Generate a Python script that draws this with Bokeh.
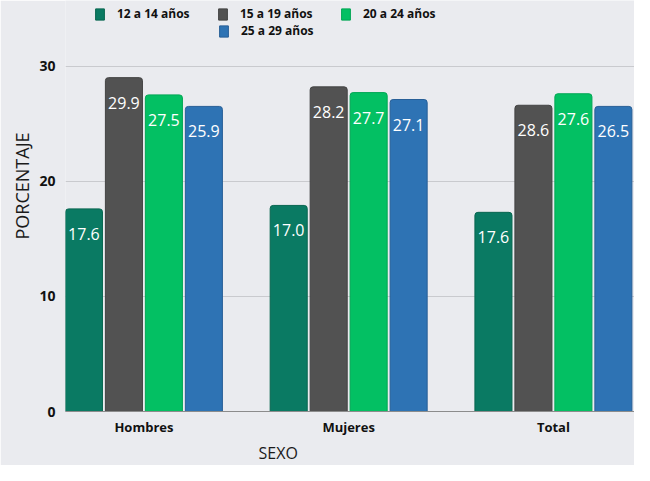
from bokeh.plotting import figure
from bokeh.models import ColumnDataSource, Range1d, FixedTicker, Legend, LegendItem, Title
from bokeh.transform import dodge
from bokeh.core.properties import value
from bokeh.embed import file_html
from bokeh.resources import INLINE

# ---- data ----
categories = ["Hombres", "Mujeres", "Total"]
age_groups = ["12 a 14 años", "15 a 19 años", "20 a 24 años", "25 a 29 años"]

bars_12_14 = [17.6, 17.9, 17.3]
bars_15_19 = [29.0, 28.2, 26.6]
bars_20_24 = [27.5, 27.7, 27.6]
bars_25_29 = [26.5, 27.1, 26.5]

labels_12_14 = ["17.6", "17.0", "17.6"]
labels_15_19 = ["29.9", "28.2", "28.6"]
labels_20_24 = ["27.5", "27.7", "27.6"]
labels_25_29 = ["25.9", "27.1", "26.5"]

y_ticks = [0, 10, 20, 30]
x_title = "SEXO"
y_title = "PORCENTAJE"

# ---- styles ----
BG = "#EAEBEF"
colors = ["#0A7A63", "#525252", "#03C063", "#2E73B4"]
edges = ["#086650", "#444444", "#02A654", "#285F97"]
offsets = [-0.2929, -0.0976, 0.0976, 0.2929]
bar_w = 0.181
FONT = "Open Sans"

bar_series = [bars_12_14, bars_15_19, bars_20_24, bars_25_29]
label_series = [labels_12_14, labels_15_19, labels_20_24, labels_25_29]

data = dict(x=list(range(len(categories))))
for i in range(4):
    data["b%d" % i] = bar_series[i]
    data["l%d" % i] = label_series[i]
src = ColumnDataSource(data)

p = figure(width=634, height=465, output_backend="svg", toolbar_location=None,
           x_range=Range1d(-0.383, 2.396), y_range=Range1d(0, 35.7),
           min_border_left=65, min_border_right=0, min_border_top=0, min_border_bottom=54,
           background_fill_color=BG, border_fill_color=BG, outline_line_color=None)

renderers = []
for i in range(4):
    xs = dodge("x", offsets[i], range=p.x_range)
    r = p.vbar(x=xs, top="b%d" % i, bottom=0, width=bar_w, source=src,
               fill_color=colors[i], line_color=edges[i], line_width=1,
               border_radius=(3, 3, 0, 0))
    renderers.append(r)
    p.text(x=xs, y="b%d" % i, text="l%d" % i, source=src, y_offset=25,
           text_align="center", text_baseline="middle", text_color="white",
           text_font=value(FONT), text_font_size="16px")

# axes
p.xaxis.ticker = FixedTicker(ticks=list(range(len(categories))))
p.xaxis.major_label_overrides = {i: c for i, c in enumerate(categories)}
p.yaxis.ticker = FixedTicker(ticks=y_ticks)
for ax in (p.xaxis[0], p.yaxis[0]):
    ax.major_tick_line_color = None
    ax.minor_tick_line_color = None
    ax.major_tick_out = 0
    ax.major_tick_in = 0
    ax.minor_tick_out = 0
    ax.minor_tick_in = 0
    ax.major_label_text_font = FONT
    ax.major_label_text_font_style = "bold"
    ax.major_label_text_color = "#111111"
p.xaxis.major_label_text_font_size = "13px"
p.yaxis.major_label_text_font_size = "14px"
p.xaxis.major_label_standoff = 6
p.yaxis.major_label_standoff = 10
p.xaxis.axis_line_color = "#8C8C8C"
p.xaxis.axis_line_width = 1
p.yaxis.axis_line_color = None

p.xgrid.grid_line_color = None
p.ygrid.grid_line_color = "#C9CACE"
p.ygrid.grid_line_width = 1

# axis titles
p.add_layout(Title(text=x_title, align="left", offset=193, standoff=3,
                   text_font=FONT, text_font_size="16px", text_font_style="normal",
                   text_color="#1A1A1A"), "below")
p.add_layout(Title(text=y_title, align="left", offset=172, standoff=6,
                   text_font=FONT, text_font_size="18px", text_font_style="normal",
                   text_color="#1A1A1A"), "left")

# legends
def make_legend(items, loc):
    return Legend(items=items, location=loc, orientation="horizontal",
                  glyph_width=11, glyph_height=14, label_standoff=12,
                  label_width=100, spacing=0, padding=0, margin=0,
                  label_text_font=FONT, label_text_font_style="bold",
                  label_text_font_size="12px", label_text_color="#111111",
                  label_height=14, border_line_color=None, background_fill_alpha=0)

leg1 = make_legend([LegendItem(label=age_groups[i], renderers=[renderers[i]]) for i in range(3)], (29, 389))
leg2 = make_legend([LegendItem(label=age_groups[3], renderers=[renderers[3]])], (153, 372))
p.add_layout(leg1, "center")
p.add_layout(leg2, "center")

open("out.html", "w").write(file_html(p, INLINE))
